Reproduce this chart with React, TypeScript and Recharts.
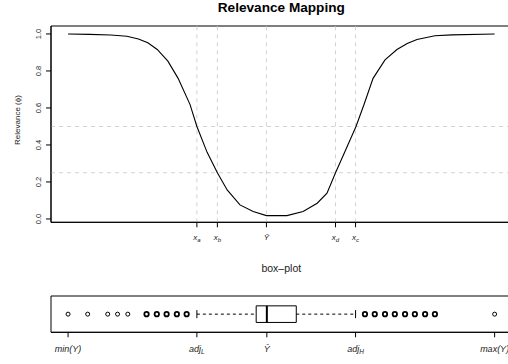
import {
  LineChart,
  Line,
  ComposedChart,
  Scatter,
  XAxis,
  YAxis,
  ReferenceLine,
  ReferenceArea,
} from 'recharts'

// relevance curve (x in units of the target range, 0 = min(Y), 100 = max(Y))
const curveX = [0, 5, 10, 13.8, 16.5, 18.7, 20.9, 23.4, 25.8, 28.6, 30.2, 32.6, 35.0, 37.3, 40.3, 43.4, 46.5, 51.3, 55.1, 58.4, 60.7, 62.7, 65.2, 67.5, 69.4, 71.5, 74.3, 77.1, 79.5, 81.8, 86.0, 90, 100]
const curvePhi = [1.0, 0.998, 0.994, 0.988, 0.973, 0.952, 0.916, 0.853, 0.76, 0.618, 0.5, 0.36, 0.25, 0.157, 0.076, 0.04, 0.018, 0.018, 0.04, 0.085, 0.139, 0.25, 0.38, 0.5, 0.62, 0.76, 0.86, 0.916, 0.948, 0.97, 0.99, 0.995, 1.0]

// control points of the mapping
const controlX = [30.2, 35.0, 46.5, 62.7, 67.4]
const controlBase = ['x', 'x', 'Ȳ', 'x', 'x']
const controlSub = ['a', 'b', '', 'd', 'c']
const phiLevels = [0.5, 0.25]
const phiTicks = [0, 0.2, 0.4, 0.6, 0.8, 1.0]

// box-plot statistics
const boxStats = { min: 0, adjL: 30.2, q1: 44.1, median: 46.6, q3: 53.5, adjH: 67.4, max: 100 }
const singleOutliers = [0, 4.6, 9.3, 11.6, 14.0, 100]
const repeatedOutliers = [18.4, 20.8, 23.1, 25.5, 27.8, 69.6, 71.9, 74.3, 76.6, 79.0, 81.3, 83.7, 86.0]
const boxTicks = [boxStats.min, boxStats.adjL, boxStats.median, boxStats.adjH, boxStats.max]
const boxTickBase = ['min(Y)', 'adj', 'Ȳ', 'adj', 'max(Y)']
const boxTickSub = ['', 'L', '', 'H', '']

const FONT = '"Liberation Sans", Arial, Helvetica, sans-serif'
const X_DOMAIN: [number, number] = [-4, 104]
const GRID = '#d3d3d3'
const TEXT = '#222'

const curveData = curveX.map((x, i) => ({ x, phi: curvePhi[i] }))
const singleData = singleOutliers.map((x) => ({ x, y: 1 }))
const repeatedData = repeatedOutliers.map((x) => ({ x, y: 1 }))

function TopTick(props: any) {
  const { x, y, payload } = props
  const i = controlX.indexOf(payload.value)
  return (
    <text x={x} y={y} dy={10.5} textAnchor="middle" fontSize={8} fontStyle="italic" fill={TEXT} fontFamily={FONT}>
      {controlBase[i]}
      {controlSub[i] && <tspan fontSize={6} dy={2} fill={TEXT}>{controlSub[i]}</tspan>}
    </text>
  )
}

function PhiTick(props: any) {
  const { x, y, payload } = props
  const bx = x - 3
  return (
    <text x={bx} y={y} transform={`rotate(-90, ${bx}, ${y})`} textAnchor="middle" fontSize={7.5} fill={TEXT} fontFamily={FONT}>
      {payload.value.toFixed(1)}
    </text>
  )
}

function BoxTick(props: any) {
  const { x, y, payload } = props
  const i = boxTicks.indexOf(payload.value)
  return (
    <text x={x} y={y} dy={13} textAnchor="middle" fontSize={9} fontStyle="italic" fill={TEXT} fontFamily={FONT}>
      {boxTickBase[i]}
      {boxTickSub[i] && <tspan fontSize={6.5} dy={2} fill={TEXT}>{boxTickSub[i]}</tspan>}
    </text>
  )
}

const ring = (r: number, w: number) => (p: any) => (
  <circle cx={p.cx} cy={p.cy} r={r} fill="none" stroke="#000" strokeWidth={w} />
)

export default function App() {
  return (
    <div style={{ position: 'absolute', left: 0, top: 0, width: 508, height: 364, overflow: 'hidden', background: '#fff', fontFamily: FONT }}>
      <div style={{ position: 'absolute', left: 0, top: 0 }}>
        <LineChart width={540} height={250} data={curveData} margin={{ top: 26, right: 28.3, left: 0, bottom: 0 }}>
          <XAxis
            dataKey="x"
            type="number"
            domain={X_DOMAIN}
            ticks={controlX}
            interval={0}
            allowDataOverflow
            height={27.7}
            tickSize={5}
            tickMargin={2}
            stroke="#000"
            tick={<TopTick />}
          />
          <YAxis
            type="number"
            domain={[-0.018, 1.043]}
            ticks={phiTicks}
            interval={0}
            allowDataOverflow
            width={51}
            tickSize={5}
            tickMargin={2}
            stroke="#000"
            tick={<PhiTick />}
          />
          {controlX.map((v) => (
            <ReferenceLine key={'v' + v} x={v} stroke={GRID} strokeDasharray="4 4" />
          ))}
          {phiLevels.map((v) => (
            <ReferenceLine key={'h' + v} y={v} stroke={GRID} strokeDasharray="4 4" />
          ))}
          <ReferenceArea x1={X_DOMAIN[0]} x2={X_DOMAIN[1]} y1={-0.018} y2={1.043} fill="none" stroke="#000" strokeWidth={1} />
          <Line type="linear" dataKey="phi" stroke="#000" strokeWidth={1.1} dot={false} isAnimationActive={false} />
        </LineChart>
      </div>

      <div style={{ position: 'absolute', left: 0, top: 280 }}>
        <ComposedChart width={540} height={84} margin={{ top: 16, right: 28.3, left: 51, bottom: 0 }}>
          <XAxis
            dataKey="x"
            type="number"
            domain={X_DOMAIN}
            ticks={boxTicks}
            interval={0}
            allowDataOverflow
            height={31.7}
            tickSize={5}
            tickMargin={2}
            stroke="#000"
            tick={<BoxTick />}
          />
          <YAxis type="number" dataKey="y" domain={[0.46, 1.54]} hide />
          <ReferenceArea x1={X_DOMAIN[0]} x2={X_DOMAIN[1]} y1={0.46} y2={1.54} fill="none" stroke="#000" strokeWidth={1} />
          <ReferenceLine segment={[{ x: boxStats.adjL, y: 1 }, { x: boxStats.q1, y: 1 }]} stroke="#000" strokeDasharray="3 3" />
          <ReferenceLine segment={[{ x: boxStats.q3, y: 1 }, { x: boxStats.adjH, y: 1 }]} stroke="#000" strokeDasharray="3 3" />
          <ReferenceLine segment={[{ x: boxStats.adjL, y: 0.88 }, { x: boxStats.adjL, y: 1.12 }]} stroke="#000" />
          <ReferenceLine segment={[{ x: boxStats.adjH, y: 0.88 }, { x: boxStats.adjH, y: 1.12 }]} stroke="#000" />
          <ReferenceArea x1={boxStats.q1} x2={boxStats.q3} y1={0.753} y2={1.247} fill="#fff" fillOpacity={1} stroke="#000" strokeWidth={1} />
          <ReferenceLine segment={[{ x: boxStats.median, y: 0.753 }, { x: boxStats.median, y: 1.247 }]} stroke="#000" strokeWidth={2} />
          <Scatter data={singleData} dataKey="y" shape={ring(2, 1)} isAnimationActive={false} />
          <Scatter data={repeatedData} dataKey="y" shape={ring(2.2, 1.8)} isAnimationActive={false} />
        </ComposedChart>
      </div>

      <svg width={508} height={364} style={{ position: 'absolute', left: 0, top: 0, pointerEvents: 'none' }}>
        <text x={281.3} y={12} textAnchor="middle" fontSize={12.5} fontWeight="bold" fill="#000" fontFamily={FONT} textLength={127} lengthAdjust="spacingAndGlyphs">
          Relevance Mapping
        </text>
        <text x={281.3} y={272} textAnchor="middle" fontSize={10.5} fill={TEXT} fontFamily={FONT}>
          box–plot
        </text>
        <text transform="translate(20,120) rotate(-90)" textAnchor="middle" fontSize={8} fill={TEXT} fontFamily={FONT}>
          Relevance  (ϕ)
        </text>
      </svg>
    </div>
  )
}
